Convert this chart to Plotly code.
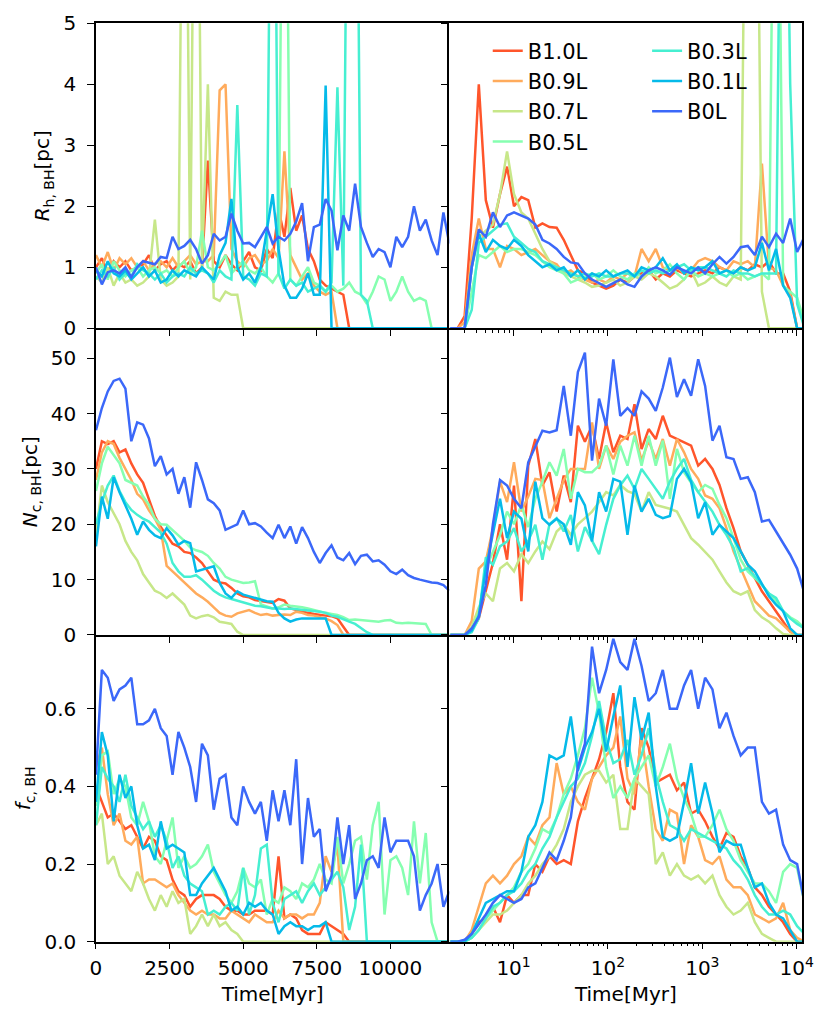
import plotly.graph_objects as go

names = ["B1.0L", "B0.9L", "B0.7L", "B0.5L", "B0.3L", "B0.1L", "B0L"]
colors = ["#ff552b", "#ffab5c", "#c7e789", "#86ffb0", "#46efd1", "#05bae9", "#3b68f9"]

# snapshot times (Myr): linear panels every 200 Myr, log panels log-spaced
t_lin = list(range(0, 12001, 200))
t_log = [2.14, 2.55, 3.03, 3.6, 4.28, 5.08, 6.04, 7.18, 8.53, 10.1,
         12.1, 14.3, 17.0, 20.2, 24.0, 28.6, 34.0, 40.4, 48.0, 57.0,
         67.8, 80.5, 95.7, 114, 135, 161, 191, 227, 270, 321,
         381, 453, 538, 640, 760, 904, 1070, 1280, 1520, 1800,
         2140, 2550, 3030, 3600, 4280, 5080, 6040, 7180, 8530, 10100, 12100]

# ---- R_h,BH  (linear time)
rh_lin_b10 = [1.0, 1.15, 0.9, 1.1, 1.0, 1.1, 0.95, 1.0, 1.05, 1.2,
              0.95, 1.05, 1.1, 0.95, 1.05, 1.0, 1.1, 0.9, 1.0, 2.75,
              1.1, 1.0, 1.2, 1.05, 0.95, 1.1, 1.25, 1.0, 0.95, 1.3,
              1.15, 1.95, 1.5, 2.3, 1.6, 1.85, 1.3, 1.1, 0.8, 0.7,
              0.65, 0.6, 0.55, 0, 0, 0, 0, 0, 0, 0,
              0, 0, 0, 0, 0, 0, 0, 0, 0, 0, 0]
rh_lin_b09 = [1.2, 1.0, 1.25, 0.95, 1.15, 1.05, 1.15, 1.0, 1.1, 0.95,
              1.05, 1.1, 1.0, 1.15, 1.0, 1.1, 1.2, 1.05, 1.1, 1.1,
              1.2, 3.9, 4.0, 1.3, 1.1, 1.0, 1.15, 1.2, 1.05, 1.1,
              1.3, 1.15, 2.9, 1.2, 1.0, 0.8, 0.9, 0.7, 0.6, 0.55,
              0.6, 0, 0, 0, 0, 0, 0, 0, 0, 0,
              0, 0, 0, 0, 0, 0, 0, 0, 0, 0, 0]
rh_lin_b07 = [0.85, 0.75, 1.0, 0.7, 0.9, 0.75, 0.8, 0.7, 0.75, 0.85,
              1.78, 0.8, 0.7, 0.75, 0.85, 12, 0.8, 12, 1.0, 4.0,
              0.5, 0.45, 0.6, 0.55, 0.55, 0, 0, 0, 0, 0,
              0, 0, 0, 0, 0, 0, 0, 0, 0, 0,
              0, 0, 0, 0, 0, 0, 0, 0, 0, 0,
              0, 0, 0, 0, 0, 0, 0, 0, 0, 0, 0]
rh_lin_b05 = [0.9, 1.05, 0.8, 1.1, 0.95, 0.85, 0.95, 1.0, 0.85, 0.95,
              1.0, 0.9, 0.95, 0.85, 1.0, 1.1, 0.9, 1.0, 1.6, 1.0,
              0.95, 1.05, 1.2, 0.9, 1.0, 1.1, 0.95, 0.9, 1.0, 0.85,
              0.75, 0.9, 12, 0.8, 0.7, 0.85, 1.0, 0.75, 0.7, 0.6,
              0.7, 0.6, 0.65, 0.75, 0.6, 0.55, 0.4, 0.6, 0.85, 0.8,
              0.45, 0.6, 0.85, 0.6, 0.45, 0.5, 0.45, 0, 0, 0, 0]
rh_lin_b03 = [0.8, 0.95, 0.85, 1.0, 0.8, 0.9, 0.85, 1.05, 0.95, 0.9,
              0.8, 0.9, 0.75, 0.85, 0.9, 0.85, 1.0, 0.9, 0.95, 0.9,
              0.75, 0.95, 0.85, 0.8, 3.66, 0.85, 0.8, 0.7, 0.9, 0.85,
              12, 0.9, 0.65, 0.8, 0.7, 0.75, 0.6, 0.65, 0.7, 0.6,
              0.75, 3.95, 0.7, 12, 12, 0.55, 0.45, 0, 0, 0,
              0, 0, 0, 0, 0, 0, 0, 0, 0, 0, 0]
rh_lin_b01 = [0.95, 0.85, 1.1, 0.9, 0.85, 0.95, 0.8, 0.9, 1.0, 0.85,
              0.95, 0.75, 0.8, 0.95, 0.85, 0.95, 0.9, 0.85, 1.0, 0.9,
              0.8, 1.2, 1.4, 2.12, 1.0, 0.8, 0.9, 0.75, 1.0, 1.6,
              2.2, 1.3, 0.7, 0.5, 0.5, 0.65, 0.9, 0.55, 0.55, 3.98,
              0, 0, 0, 0, 0, 0, 0, 0, 0, 0,
              0, 0, 0, 0, 0, 0, 0, 0, 0, 0, 0]
rh_lin_b00 = [1.0, 0.72, 0.92, 0.95, 0.9, 1.0, 0.84, 1.0, 1.1, 1.08,
              1.05, 1.17, 1.15, 1.5, 1.3, 1.35, 1.45, 1.3, 1.06, 1.2,
              1.55, 1.44, 1.5, 1.88, 1.6, 1.39, 1.4, 1.33, 1.5, 1.66,
              1.39, 1.5, 1.44, 1.55, 1.75, 2.05, 1.1, 1.66, 1.7, 2.12,
              1.93, 1.28, 1.85, 1.6, 2.37, 1.66, 1.4, 1.17, 1.3, 1.25,
              1.0, 1.5, 1.33, 1.5, 2.0, 1.6, 1.78, 1.44, 1.2, 1.9, 1.39]

# ---- R_h,BH  (log time)
rh_log_b10 = [0, 0, 0.2, 1.8, 4.0, 2.1, 1.65, 2.2, 2.65, 2.0,
              2.15, 2.1, 1.65, 1.72, 1.66, 1.65, 1.45, 1.2, 0.95, 0.9,
              0.75, 0.7, 0.65, 0.7, 0.8, 0.75, 0.85, 0.9, 0.95, 0.8,
              0.9, 0.85, 0.95, 0.9, 0.85, 0.9, 0.95, 0.9, 1.0, 0.95,
              0.9, 1.0, 0.95, 1.05, 1.0, 1.1, 0.9, 0.9, 0.6, 0, 0]
rh_log_b09 = [0, 0, 0.1, 1.2, 1.8, 1.3, 1.3, 1.0, 1.35, 1.3,
              1.2, 1.25, 1.3, 1.2, 1.1, 1.05, 0.9, 0.95, 0.85, 0.8,
              0.75, 0.8, 0.75, 0.85, 0.8, 0.9, 0.85, 1.3, 1.1, 1.3,
              1.0, 0.95, 1.0, 0.9, 0.95, 1.1, 1.15, 1.1, 1.0, 0.95,
              1.1, 1.05, 1.1, 1.0, 2.7, 1.0, 0.95, 0.7, 0.55, 0, 0]
rh_log_b07 = [0, 0, 0, 1.0, 1.5, 1.6, 1.7, 2.2, 2.9, 2.2,
              1.9, 1.8, 1.55, 1.3, 1.1, 1.0, 0.9, 0.85, 0.8, 0.75,
              0.68, 0.7, 0.75, 0.8, 0.7, 0.75, 0.85, 0.8, 0.9, 0.85,
              0.75, 0.65, 0.7, 0.8, 0.95, 0.7, 0.75, 0.85, 0.75, 0.7,
              0.85, 0.8, 12, 12, 0.6, 0, 0, 0, 0, 0, 0]
rh_log_b05 = [0, 0, 0, 0.6, 1.2, 1.15, 1.25, 1.35, 1.25, 1.3,
              1.3, 1.25, 1.2, 1.1, 1.0, 0.95, 0.9, 0.75, 0.8, 0.85,
              0.9, 0.8, 0.85, 0.95, 0.85, 0.8, 0.9, 0.85, 1.0, 0.9,
              0.95, 1.05, 0.9, 0.8, 0.95, 0.85, 0.9, 0.85, 0.9, 0.95,
              0.85, 0.9, 0.8, 0.85, 0.9, 0.8, 12, 0.7, 0.6, 0.5, 0.1]
rh_log_b03 = [0, 0, 0, 0.3, 1.4, 1.5, 1.6, 1.7, 1.72, 1.5,
              1.4, 1.3, 1.25, 1.1, 1.05, 1.0, 0.95, 0.9, 0.85, 0.9,
              0.85, 0.9, 0.85, 0.85, 0.9, 0.9, 0.85, 0.95, 0.9, 0.95,
              0.9, 0.95, 1.0, 1.05, 0.95, 1.0, 1.0, 0.95, 0.9, 0.85,
              0.95, 0.9, 0.9, 0.85, 0.9, 0.9, 0.9, 12, 4.0, 0.4, 0]
rh_log_b01 = [0, 0, 0, 1.0, 1.55, 1.25, 1.45, 1.35, 1.3, 1.45,
              1.35, 1.2, 1.1, 1.0, 1.05, 0.95, 1.0, 0.85, 0.95, 0.8,
              0.9, 0.85, 0.95, 0.85, 0.9, 0.95, 0.85, 1.0, 0.95, 1.0,
              1.15, 0.95, 1.05, 0.9, 1.0, 0.95, 1.0, 1.1, 0.9, 0.95,
              0.9, 1.0, 0.95, 1.0, 1.4, 0.95, 1.3, 0.7, 0.5, 0, 0]
rh_log_b00 = [0, 0, 0, 1.0, 1.62, 1.5, 1.9, 1.66, 1.85, 1.9,
              1.85, 1.8, 1.7, 1.45, 1.39, 1.3, 1.17, 1.08, 1.06, 0.9,
              0.8, 0.74, 0.68, 0.74, 0.8, 0.72, 0.68, 0.85, 0.95, 1.0,
              0.95, 0.88, 1.0, 0.95, 0.9, 1.0, 0.9, 1.05, 1.17, 1.06,
              1.17, 1.33, 1.35, 1.2, 1.5, 1.33, 1.55, 1.4, 1.8, 1.25, 1.5]

# ---- N_c,BH  (linear time)
nc_lin_b10 = [30, 35, 34.5, 35, 33, 33.5, 31, 29, 27.5, 24.5,
              21.5, 19.5, 18, 16.5, 16, 15, 14.8, 14, 13, 11.5,
              10, 9.5, 9.3, 8.5, 7.5, 7, 6.8, 6.3, 6.1, 6,
              5.8, 6.5, 6.2, 4.8, 4.5, 4.3, 4.0, 3.8, 3.6, 3.5,
              3.4, 3.0, 1.5, 0, 0, 0, 0, 0, 0, 0,
              0, 0, 0, 0, 0, 0, 0, 0, 0, 0, 0]
nc_lin_b09 = [28, 33, 35, 34.5, 32, 30, 28, 25.5, 24.5, 22.5,
              21, 19, 12.5, 11.5, 10.5, 9.5, 8.5, 7.5, 6.8, 6,
              5, 4, 3.5, 3.3, 3.9, 4.2, 4.5, 4.0, 3.6, 3.8,
              3.5, 3.6, 3.7, 3.6, 4.2, 4.0, 3.6, 3.5, 3.2, 3.0,
              2.5, 1.8, 0, 0, 0, 0, 0, 0, 0, 0,
              0, 0, 0, 0, 0, 0, 0, 0, 0, 0, 0]
nc_lin_b07 = [18, 27, 24, 22, 20, 17, 15, 13.5, 11, 9.5,
              8, 7.5, 6.7, 7.5, 6.5, 5.5, 3.5, 3.0, 3.4, 3.6,
              3.2, 2.4, 2.2, 2.0, 0.6, 0, 0, 0, 0, 0,
              0, 0, 0, 0, 0, 0, 0, 0, 0, 0,
              0, 0, 0, 0, 0, 0, 0, 0, 0, 0,
              0, 0, 0, 0, 0, 0, 0, 0, 0, 0, 0]
nc_lin_b05 = [26, 31, 34, 32.5, 31, 28, 27.5, 27, 25, 23.5,
              21, 20, 19.9, 19, 18, 17, 15.8, 15.3, 15, 14.3,
              13, 12, 10.5, 10, 9.7, 9.4, 9.5, 9.7, 5.5, 5.2,
              4.8, 5.0, 5.5, 5.3, 5.2, 5.0, 4.8, 4.5, 4.2, 4.0,
              3.8, 3.6, 3.2, 2.7, 2.8, 2.7, 2.7, 2.5, 2.4, 2.6,
              2.7, 2.2, 2.1, 2.2, 2.1, 2.1, 2.0, 0, 0, 0, 0]
nc_lin_b03 = [20, 24, 27, 28.8, 26, 24, 22.6, 21.7, 21, 20.5,
              19.5, 18.5, 16.5, 13, 11.5, 10.5, 10.5, 10.8, 10, 9,
              8, 7.3, 6.8, 6.5, 6.2, 5.8, 5.5, 5.3, 5.2, 5.0,
              4.8, 4.8, 4.7, 4.8, 4.7, 4.6, 4.5, 4.4, 4.2, 4.0,
              3.5, 3.3, 2.8, 2.4, 2.0, 1.2, 0.5, 0, 0, 0,
              0, 0, 0, 0, 0, 0, 0, 0, 0, 0, 0]
nc_lin_b01 = [16, 25, 21, 28.5, 25.8, 23.5, 21, 18.1, 20.5, 19,
              18, 17.5, 19.3, 18, 16.3, 17, 16.6, 11.5, 11.8, 12.2,
              12.4, 9.4, 7.5, 6.7, 7.9, 7.3, 7.0, 6.7, 6.3, 6.1,
              6.0, 4.0, 3.0, 2.4, 2.8, 3.0, 3.0, 3.0, 2.9, 3.0,
              0, 0, 0, 0, 0, 0, 0, 0, 0, 0,
              0, 0, 0, 0, 0, 0, 0, 0, 0, 0, 0]
nc_lin_b00 = [37, 41, 44, 45.9, 46.3, 44.5, 35, 38.4, 38, 35.5,
              30.5, 32.3, 29, 30, 25.5, 28.5, 23, 31.2, 28, 24.5,
              23.8, 22.5, 19, 19.5, 20, 22.5, 20, 20.2, 19.6, 18.5,
              17.5, 19.9, 17.5, 19.6, 16.5, 19.5, 17.5, 15, 13, 14.8,
              16.2, 14, 13.5, 14.8, 12.8, 14.3, 14.5, 13.3, 13.5, 12.7,
              11.5, 11, 11.8, 10.8, 10.3, 10, 9.7, 9.5, 9.4, 9.0, 8.0]

# ---- N_c,BH  (log time)
nc_log_b10 = [0, 0, 0, 0.8, 3, 8, 13, 20, 13.6, 27,
              6.1, 30.6, 35.4, 27, 29.4, 22.3, 28.8, 24, 37.8, 34.9,
              37.8, 31.8, 38.4, 33, 36, 35.4, 41.7, 33.6, 37.2, 35.4,
              39.6, 36, 35.4, 34.9, 34.2, 30.6, 31.8, 30, 27.1, 22.9,
              19.3, 15.1, 12.7, 10.3, 7.9, 6.1, 4.3, 2.5, 0.6, 0, 0]
nc_log_b09 = [0, 0, 0, 2.5, 12, 13.3, 19.3, 27.7, 24, 31.2,
              22.3, 25, 28.2, 28, 21.1, 24.6, 28, 30, 30, 30,
              38.4, 30, 34.2, 31.8, 34.9, 36, 36.6, 31.5, 35.1, 31.8,
              35.4, 30.6, 35.4, 33, 30, 28.2, 25.2, 24.6, 22.9, 19.3,
              15.1, 12.1, 9.1, 6.1, 4.8, 3.5, 3.0, 1.8, 0.6, 0, 0]
nc_log_b07 = [0, 0, 0, 1.5, 5, 7.5, 6.1, 12, 13, 11.5,
              14.6, 13, 15.1, 16.9, 15.5, 18.7, 19.9, 18.1, 20, 21.1,
              22.3, 24, 25.8, 25.2, 27.1, 26, 25.5, 22.3, 25.8, 23.5,
              23.2, 22.8, 22.3, 19.9, 17.5, 16.3, 15, 13.6, 11.5, 9.5,
              7.9, 7.3, 7.9, 4.5, 3.2, 2.4, 1.2, 0.2, 0, 0, 0]
nc_log_b05 = [0, 0, 0, 1, 4, 12, 15.1, 18, 22.3, 20,
              23.5, 19.5, 24.6, 27.7, 31.2, 28.8, 33.6, 24.6, 30, 29.4,
              29.4, 30.6, 34.2, 29, 34.2, 30.6, 36, 30.6, 36, 30.6,
              35.1, 24.6, 33.6, 29.4, 27.5, 25.8, 27.1, 26.4, 23.5, 21.1,
              17.5, 13.6, 11.5, 10.3, 9.1, 7.5, 6.1, 4.3, 3.2, 2.5, 1.2]
nc_log_b03 = [0, 0, 0, 0.5, 3, 14, 12.7, 16, 16.9, 19.3,
              15.1, 17, 19.9, 13.6, 20, 21.1, 18.7, 21.7, 15.1, 19.5,
              17, 14.6, 19.9, 24.6, 27, 28.8, 26.4, 30, 28.2, 26.5,
              24.6, 27.7, 30, 31.8, 28, 25.8, 24, 22.3, 19.9, 18.1,
              15.8, 11.5, 12.1, 10.5, 9.1, 7.5, 6.7, 4.3, 3.0, 2.0, 1.2]
nc_log_b01 = [0, 0, 0, 0.8, 3.5, 12, 18, 24.6, 17.5, 22.3,
              21, 15.1, 27.7, 21.1, 19.9, 21, 20, 16.3, 25.8, 23.4,
              16.9, 25.8, 22.3, 28.2, 27.7, 18.1, 27, 22.3, 24.6, 21.7,
              21.1, 21.5, 28.2, 30, 27.7, 21.1, 24, 18.1, 19.9, 18.7,
              17.5, 15.1, 12.7, 11.5, 9.1, 7, 5.5, 4.3, 1.2, 0, 0]
nc_log_b00 = [0, 0, 0, 1.2, 3.2, 9, 20, 28, 27, 24.6,
              22.9, 31.2, 34, 36.9, 36.6, 37, 45, 36, 47.5, 51,
              31.5, 42.7, 37.8, 49.8, 39.6, 41, 39.6, 44, 42.7, 40.5,
              44.7, 50.1, 43, 46.2, 43.2, 49.8, 45, 35.1, 37.8, 32.1,
              31.8, 28.2, 28.5, 25.8, 20.5, 20.8, 18.7, 16.5, 14.5, 12, 7.5]

# ---- f_c,BH  (linear time)
fc_lin_b10 = [0.4, 0.36, 0.32, 0.33, 0.31, 0.29, 0.3, 0.27, 0.24, 0.27,
              0.26, 0.22, 0.21, 0.16, 0.13, 0.12, 0.09, 0.11, 0.12, 0.12,
              0.12, 0.11, 0.09, 0.08, 0.08, 0.07, 0.07, 0.08, 0.08, 0.08,
              0.07, 0.22, 0.06, 0.07, 0.06, 0.03, 0.02, 0.02, 0.02, 0.05,
              0.04, 0.03, 0.02, 0, 0, 0, 0, 0, 0, 0,
              0, 0, 0, 0, 0, 0, 0, 0, 0, 0, 0]
fc_lin_b09 = [0.45, 0.5, 0.38, 0.3, 0.33, 0.26, 0.25, 0.27, 0.15, 0.16,
              0.16, 0.15, 0.14, 0.15, 0.12, 0.1, 0.08, 0.07, 0.08, 0.07,
              0.07, 0.06, 0.06, 0.08, 0.07, 0.06, 0.05, 0.07, 0.06, 0.05,
              0.05, 0.08, 0.06, 0.07, 0.07, 0.06, 0.07, 0.07, 0.1, 0.22,
              0.18, 0.25, 0, 0, 0, 0, 0, 0, 0, 0,
              0, 0, 0, 0, 0, 0, 0, 0, 0, 0, 0]
fc_lin_b07 = [0.3, 0.33, 0.2, 0.22, 0.17, 0.15, 0.13, 0.18, 0.15, 0.11,
              0.08, 0.12, 0.09, 0.13, 0.1, 0.11, 0.02, 0.04, 0.07, 0.04,
              0.07, 0.04, 0.05, 0.03, 0.02, 0, 0, 0, 0, 0,
              0, 0, 0, 0, 0, 0, 0, 0, 0, 0,
              0, 0, 0, 0, 0, 0, 0, 0, 0, 0,
              0, 0, 0, 0, 0, 0, 0, 0, 0, 0, 0]
fc_lin_b05 = [0.35, 0.48, 0.49, 0.38, 0.42, 0.4, 0.32, 0.3, 0.36, 0.31,
              0.22, 0.2, 0.26, 0.32, 0.19, 0.22, 0.19, 0.2, 0.22, 0.25,
              0.18, 0.15, 0.12, 0.1, 0.13, 0.19, 0.15, 0.14, 0.16, 0.07,
              0.11, 0.1, 0.14, 0.13, 0.11, 0.15, 0.14, 0.16, 0.2, 0.16,
              0.15, 0.27, 0.15, 0.2, 0.26, 0.27, 0.16, 0.3, 0.36, 0.07,
              0.21, 0.22, 0.19, 0.12, 0.31, 0.15, 0.28, 0.05, 0, 0, 0]
fc_lin_b03 = [0.3, 0.45, 0.42, 0.4, 0.36, 0.43, 0.35, 0.32, 0.29, 0.31,
              0.27, 0.3, 0.26, 0.19, 0.22, 0.17, 0.15, 0.14, 0.13, 0.07,
              0.08, 0.07, 0.09, 0.1, 0.08, 0.19, 0.07, 0.12, 0.24, 0.25,
              0.1, 0.05, 0.11, 0.12, 0.13, 0.1, 0.13, 0.15, 0.12, 0.14,
              0.16, 0.18, 0.14, 0.03, 0.09, 0.25, 0, 0, 0, 0,
              0, 0, 0, 0, 0, 0, 0, 0, 0, 0, 0]
fc_lin_b01 = [0.36, 0.54, 0.48, 0.31, 0.43, 0.37, 0.4, 0.3, 0.24, 0.25,
              0.21, 0.31, 0.24, 0.25, 0.24, 0.23, 0.12, 0.12, 0.15, 0.17,
              0.19, 0.16, 0.13, 0.08, 0.09, 0.07, 0.1, 0.09, 0.1, 0.08,
              0.07, 0.02, 0.04, 0.05, 0.04, 0.04, 0.03, 0.04, 0.04, 0.05,
              0, 0, 0, 0, 0, 0, 0, 0, 0, 0,
              0, 0, 0, 0, 0, 0, 0, 0, 0, 0, 0]
fc_lin_b00 = [0.43, 0.7, 0.68, 0.62, 0.65, 0.66, 0.68, 0.56, 0.56, 0.57,
              0.6, 0.55, 0.53, 0.43, 0.54, 0.5, 0.45, 0.36, 0.51, 0.48,
              0.34, 0.42, 0.43, 0.32, 0.3, 0.4, 0.36, 0.33, 0.36, 0.26,
              0.39, 0.31, 0.39, 0.3, 0.47, 0.2, 0.37, 0.27, 0.29, 0.13,
              0.17, 0.32, 0.2, 0.3, 0.11, 0.15, 0.21, 0.22, 0.19, 0.32,
              0.23, 0.26, 0.26, 0.26, 0.22, 0.08, 0.12, 0.15, 0.2, 0.09, 0.13]

# ---- f_c,BH  (log time)
fc_log_b10 = [0, 0, 0, 0.02, 0.05, 0.06, 0.09, 0.05, 0.12, 0.1,
              0.12, 0.12, 0.2, 0.18, 0.22, 0.2, 0.21, 0.2, 0.31, 0.37,
              0.42, 0.47, 0.54, 0.64, 0.45, 0.36, 0.34, 0.55, 0.5, 0.41,
              0.42, 0.43, 0.39, 0.41, 0.33, 0.34, 0.31, 0.27, 0.24, 0.28,
              0.27, 0.22, 0.19, 0.14, 0.12, 0.09, 0.07, 0.05, 0.02, 0, 0]
fc_log_b09 = [0, 0, 0, 0.03, 0.09, 0.15, 0.17, 0.15, 0.17, 0.2,
              0.22, 0.27, 0.25, 0.3, 0.32, 0.46, 0.38, 0.4, 0.36, 0.34,
              0.42, 0.45, 0.48, 0.5, 0.58, 0.42, 0.38, 0.53, 0.4, 0.29,
              0.26, 0.34, 0.33, 0.2, 0.3, 0.27, 0.21, 0.2, 0.22, 0.16,
              0.14, 0.14, 0.12, 0.07, 0.06, 0.05, 0.06, 0.1, 0.03, 0.01, 0]
fc_log_b07 = [0, 0, 0, 0.01, 0.03, 0.05, 0.07, 0.07, 0.08, 0.1,
              0.12, 0.15, 0.17, 0.2, 0.22, 0.25, 0.29, 0.36, 0.4, 0.43,
              0.44, 0.44, 0.41, 0.43, 0.29, 0.29, 0.42, 0.4, 0.38, 0.2,
              0.23, 0.17, 0.2, 0.17, 0.16, 0.17, 0.15, 0.17, 0.12, 0.09,
              0.07, 0.08, 0.1, 0.05, 0.02, 0.01, 0, 0, 0, 0, 0]
fc_log_b05 = [0, 0, 0, 0.01, 0.03, 0.06, 0.08, 0.1, 0.12, 0.14,
              0.18, 0.2, 0.24, 0.29, 0.28, 0.32, 0.38, 0.42, 0.48, 0.55,
              0.68, 0.59, 0.45, 0.37, 0.4, 0.37, 0.42, 0.45, 0.48, 0.4,
              0.45, 0.51, 0.42, 0.37, 0.33, 0.27, 0.27, 0.3, 0.34, 0.29,
              0.26, 0.21, 0.18, 0.15, 0.15, 0.13, 0.1, 0.18, 0.2, 0.19, 0.1]
fc_log_b03 = [0, 0, 0, 0.01, 0.03, 0.06, 0.09, 0.1, 0.12, 0.13,
              0.15, 0.18, 0.2, 0.24, 0.27, 0.32, 0.36, 0.4, 0.42, 0.46,
              0.53, 0.62, 0.52, 0.46, 0.47, 0.52, 0.43, 0.48, 0.55, 0.43,
              0.36, 0.3, 0.29, 0.26, 0.29, 0.28, 0.27, 0.26, 0.25, 0.24,
              0.21, 0.19, 0.16, 0.12, 0.09, 0.07, 0.07, 0.08, 0.07, 0.04, 0.02]
fc_log_b01 = [0, 0, 0, 0.02, 0.06, 0.1, 0.11, 0.12, 0.13, 0.13,
              0.18, 0.27, 0.3, 0.36, 0.48, 0.47, 0.48, 0.58, 0.44, 0.5,
              0.54, 0.6, 0.49, 0.58, 0.66, 0.45, 0.63, 0.52, 0.59, 0.4,
              0.27, 0.26, 0.27, 0.36, 0.46, 0.33, 0.41, 0.33, 0.23, 0.26,
              0.25, 0.25, 0.19, 0.14, 0.15, 0.1, 0.07, 0.06, 0.03, 0, 0]
fc_log_b00 = [0, 0, 0.005, 0.02, 0.045, 0.07, 0.1, 0.12, 0.11, 0.1,
              0.11, 0.14, 0.15, 0.19, 0.23, 0.21, 0.26, 0.32, 0.45, 0.51,
              0.76, 0.64, 0.7, 0.78, 0.72, 0.7, 0.78, 0.71, 0.62, 0.64,
              0.7, 0.6, 0.6, 0.66, 0.7, 0.6, 0.68, 0.65, 0.55, 0.59,
              0.53, 0.48, 0.5, 0.5, 0.36, 0.33, 0.34, 0.25, 0.21, 0.2, 0.1]

rh_lin = [rh_lin_b10, rh_lin_b09, rh_lin_b07, rh_lin_b05, rh_lin_b03, rh_lin_b01, rh_lin_b00]
rh_log = [rh_log_b10, rh_log_b09, rh_log_b07, rh_log_b05, rh_log_b03, rh_log_b01, rh_log_b00]
nc_lin = [nc_lin_b10, nc_lin_b09, nc_lin_b07, nc_lin_b05, nc_lin_b03, nc_lin_b01, nc_lin_b00]
nc_log = [nc_log_b10, nc_log_b09, nc_log_b07, nc_log_b05, nc_log_b03, nc_log_b01, nc_log_b00]
fc_lin = [fc_lin_b10, fc_lin_b09, fc_lin_b07, fc_lin_b05, fc_lin_b03, fc_lin_b01, fc_lin_b00]
fc_log = [fc_log_b10, fc_log_b09, fc_log_b07, fc_log_b05, fc_log_b03, fc_log_b01, fc_log_b00]

panels = [(rh_lin, rh_log), (nc_lin, nc_log), (fc_lin, fc_log)]
for row in panels:
    for s in row[0]:
        assert len(s) == len(t_lin), len(s)
    for s in row[1]:
        assert len(s) == len(t_log), len(s)

FONT = "DejaVu Sans"
# the page body adds an 8 px margin, so domains are set 8 px up/left
xdom = [[0.1060, 0.5317], [0.5317, 0.9572]]
ydom = [[0.6872, 0.9851], [0.3877, 0.6872], [0.0882, 0.3877]]
yrange = [[0, 5], [0, 55.4], [0, 0.79]]
ytick = [[0, 1, 2, 3, 4, 5], [0, 10, 20, 30, 40, 50], [0, 0.2, 0.4, 0.6]]
ytext = [["0", "1", "2", "3", "4", "5"], ["0", "10", "20", "30", "40", "50"],
         ["0.0", "0.2", "0.4", "0.6"]]
ytitle = ["<i>R</i><sub>h, BH</sub>[pc]", "<i>N</i><sub>c, BH</sub>[pc]",
          "<i>f</i><sub>c, BH</sub>"]

fig = go.Figure()
for r in range(3):
    for c in range(2):
        k = 2 * r + c + 1
        xs = t_lin if c == 0 else t_log
        for s in range(7):
            fig.add_trace(go.Scatter(
                x=xs, y=panels[r][c][s], mode="lines",
                line=dict(color=colors[s], width=2.5),
                name=names[s], legendgroup=names[s],
                showlegend=(k == 2),
                legend="legend" if s < 4 else "legend2",
                xaxis="x" if k == 1 else "x%d" % k,
                yaxis="y" if k == 1 else "y%d" % k,
                hoverinfo="skip"))

minor_vals = [m * 10 ** e for e in range(0, 5) for m in range(2, 10)]
tickfont = dict(family=FONT, size=20, color="black")
lay = {}
for r in range(3):
    for c in range(2):
        k = 2 * r + c + 1
        sfx = "" if k == 1 else str(k)
        xa = dict(domain=xdom[c], anchor="y" + sfx, automargin=False,
                  showline=True, mirror=(r == 0),
                  linecolor="black", linewidth=1.5, ticks="outside", ticklen=6,
                  tickwidth=1.2, tickcolor="black", showgrid=False, zeroline=False,
                  showticklabels=(r == 2), ticklabelstandoff=2, tickfont=tickfont)
        if c == 0:
            xa.update(range=[0, 12000], tickvals=[0, 2500, 5000, 7500, 10000],
                      ticktext=["0", "2500", "5000", "7500", "10000"])
        else:
            xa.update(type="log", range=[0.319, 4.061],
                      tickvals=[10, 100, 1000, 10000],
                      ticktext=["10<sup>1</sup>", "10<sup>2</sup>",
                                "10<sup>3</sup>", "10<sup>4</sup>"],
                      minor=dict(tickvals=minor_vals, ticks="outside", ticklen=3,
                                 tickwidth=1, tickcolor="black"))
        if r == 2:
            xa["title"] = dict(text="Time[Myr]", standoff=8,
                               font=dict(family=FONT, size=20, color="black"))
        ya = dict(domain=ydom[r], anchor="x" + sfx, range=yrange[r], automargin=False,
                  tickvals=ytick[r], ticktext=ytext[r], showline=True, mirror=(c == 1),
                  linecolor="black", linewidth=1.5, ticks="outside", ticklen=7,
                  tickwidth=1.2, tickcolor="black", showgrid=False, zeroline=False,
                  showticklabels=(c == 0), ticklabelstandoff=7, tickfont=tickfont)
        if c == 0:
            ya["title"] = dict(text=ytitle[r], standoff=8,
                               font=dict(family=FONT, size=20, color="black"))
        lay["xaxis" + sfx] = xa
        lay["yaxis" + sfx] = ya

fig.update_layout(**lay)
leg = dict(bgcolor="rgba(0,0,0,0)", font=dict(family=FONT, size=21, color="black"),
           yanchor="top", xanchor="left", y=0.978, tracegroupgap=8,
           itemwidth=30, traceorder="normal")
fig.update_layout(
    width=830, height=1024, margin=dict(l=0, r=0, t=0, b=0, autoexpand=False),
    paper_bgcolor="white", plot_bgcolor="white",
    font=dict(family=FONT, color="black"),
    legend=dict(leg, x=0.578),
    legend2=dict(leg, x=0.770),
)

fig.write_html("out.html")
